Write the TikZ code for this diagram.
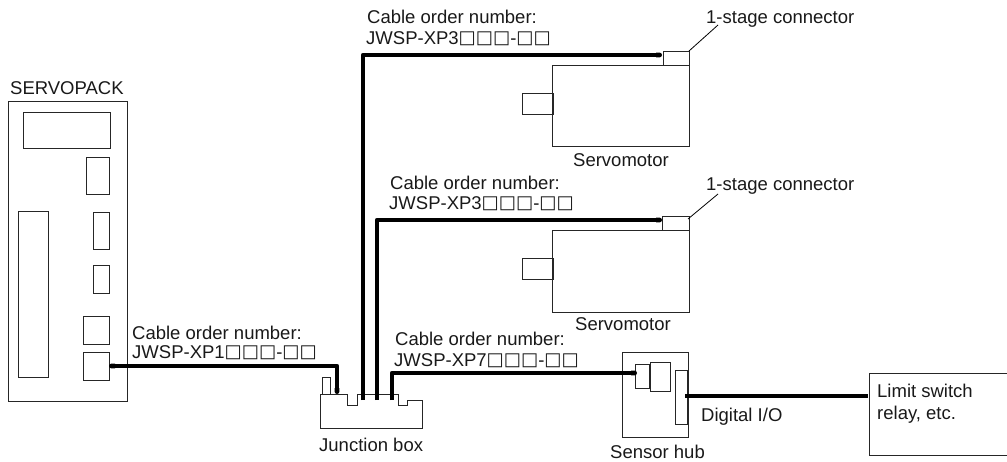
\documentclass[tikz,border=0pt]{standalone}
\usepackage{fontspec}
\usetikzlibrary{arrows.meta}
\setmainfont{Liberation Sans}
\newfontfamily\symfont{DejaVu Sans}
\newcommand{\sq}{{\symfont\fontsize{18.2}{20}\selectfont\raisebox{0.4pt}{□}}}
\tikzset{
  part/.style={draw=black!85,line width=1pt,fill=none},
  cable/.style={draw=black,line width=4.8pt,line join=round},
  thin/.style={draw=black,line width=0.8pt},
  lab/.style={anchor=base west,inner sep=0pt,text=black!90,font=\fontsize{18.5}{20}\selectfont}
}
\begin{document}
\begin{tikzpicture}[x=1pt,y=-1pt]
\useasboundingbox (0,0) rectangle (1007,461);
\draw[part] (8,101) rectangle (127,401);
\draw[part] (23,112) rectangle (110,148);
\draw[part] (86,157) rectangle (109,194);
\draw[part] (18,211) rectangle (48,377);
\draw[part] (93,212) rectangle (109,249);
\draw[part] (93,265) rectangle (109,293);
\draw[part] (83,316) rectangle (109,344);
\draw[part] (83,352) rectangle (109,380);
\node[lab] at (10,94) {SERVOPACK};
% junction
\draw[part] (320,394) -- (347,394) -- (347,405) -- (357,405) -- (357,394) -- (398,394) -- (398,405) -- (407,405) -- (407,400) -- (422,400) -- (422,428) -- (320,428) -- cycle;
\draw[part] (322,394) -- (322,377) -- (330,377) -- (330,394);
\node[lab] at (319,451) {Junction box};
% hub
\draw[part] (622,352) rectangle (688,437);
\draw[part] (635,364) rectangle (649,388);
\draw[part] (650,362) rectangle (670,391);
\draw[part] (675,370) rectangle (687,424);
\node[lab] at (610,458) {Sensor hub};
% motors
\draw[part] (552,65) rectangle (689,146);
\draw[part] (522,93) rectangle (553,114);
\draw[part] (663,51) rectangle (689,65);
\node[lab] at (573,166) {Servomotor};
\draw[part] (552,230) rectangle (689,312);
\draw[part] (522,258) rectangle (553,279);
\draw[part] (662,216) rectangle (689,230);
\node[lab] at (575,330) {Servomotor};
% cables
\coordinate (c1a) at (109,366); \coordinate (c1b) at (337,366); \coordinate (c1c) at (337,394);
\draw[cable,{Round Cap[]}-{Round Cap[]}] (c1a) -- (c1b) -- (c1c);
\coordinate (c2a) at (363,400); \coordinate (c2b) at (363,55); \coordinate (c2c) at (662,55);
\draw[cable,-{Round Cap[]}] (c2a) -- (c2b) -- (c2c);
\coordinate (c3a) at (377,400); \coordinate (c3b) at (377,220); \coordinate (c3c) at (662,220);
\draw[cable,-{Round Cap[]}] (c3a) -- (c3b) -- (c3c);
\coordinate (c4a) at (392,400); \coordinate (c4b) at (392,373); \coordinate (c4c) at (637,373);
\draw[cable,-{Round Cap[]}] (c4a) -- (c4b) -- (c4c);
\coordinate (c5a) at (685,396); \coordinate (c5b) at (868,396);
\draw[cable] (c5a) -- (c5b);
% leaders
\draw[thin] (689,51) -- (718,25);
\draw[thin] (688,219) -- (718,194);
\node[lab] at (706,23) {1-stage connector};
\node[lab] at (706,190) {1-stage connector};
% labels
\node[lab] at (367,23) {Cable order number:};
\node[lab] at (366,44) {JWSP-XP3\sq\sq\sq-\sq\sq};
\node[lab] at (390,189) {Cable order number:};
\node[lab] at (389,209) {JWSP-XP3\sq\sq\sq-\sq\sq};
\node[lab] at (132,339) {Cable order number:};
\node[lab] at (132,358) {JWSP-XP1\sq\sq\sq-\sq\sq};
\node[lab] at (395,345) {Cable order number:};
\node[lab] at (394,366) {JWSP-XP7\sq\sq\sq-\sq\sq};
\node[lab] at (701,421) {Digital I/O};
% limit
\draw[part] (1007,373) -- (869,373) -- (869,455) -- (1007,455);
\node[lab] at (877,397) {Limit switch};
\node[lab] at (877,419) {relay, etc.};
\end{tikzpicture}
\end{document}
